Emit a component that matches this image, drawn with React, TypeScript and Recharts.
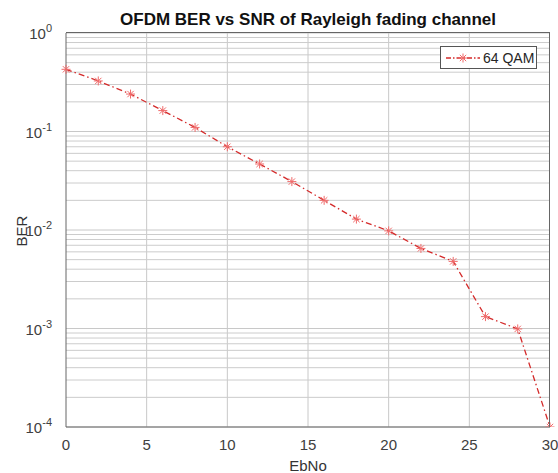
import { LineChart, Line, XAxis, YAxis, CartesianGrid } from 'recharts';

const ebno = [0, 2, 4, 6, 8, 10, 12, 14, 16, 18, 20, 22, 24, 26, 28, 30];
const ber = [0.428, 0.326, 0.24, 0.163, 0.11, 0.07, 0.0468, 0.031, 0.02, 0.0129, 0.0098, 0.0065, 0.0048, 0.00132, 0.00099, 0.0001];
const xTicks = [0, 5, 10, 15, 20, 25, 30];
const yTicks = [1e-4, 1e-3, 1e-2, 1e-1, 1];
const minorY = [1e-4, 1e-3, 1e-2, 1e-1].flatMap((d) => [2, 3, 4, 5, 6, 7, 8, 9].map((m) => m * d));

const data = ebno.map((x, i) => ({ ebno: x, ber: ber[i] }));
// minor grid rows drawn as flat two-point series across the x range
const minorRows = minorY.map((v) => [{ ebno: 0, g: v }, { ebno: 30, g: v }]);

const FONT = '"Liberation Sans", Arial, sans-serif';
const RED = '#d42a2a';

const Star = ({ cx, cy }: any) => {
  const r = 4.5;
  const d = r * 0.707;
  return (
    <g stroke="#f06a6a" strokeWidth={1}>
      <line x1={cx - r} y1={cy} x2={cx + r} y2={cy} />
      <line x1={cx} y1={cy - r} x2={cx} y2={cy + r} />
      <line x1={cx - d} y1={cy - d} x2={cx + d} y2={cy + d} />
      <line x1={cx - d} y1={cy + d} x2={cx + d} y2={cy - d} />
    </g>
  );
};

const YTick = ({ x, y, payload }: any) => {
  const exp = Math.round(Math.log10(payload.value));
  return (
    <text x={x - 6} y={y + 6} textAnchor="end" fill="#404040" fontFamily={FONT} fontSize={15}>
      <tspan>10</tspan>
      <tspan dy={-7} fontSize={11}>{exp}</tspan>
    </text>
  );
};

export default function App() {
  return (
    <div style={{ position: 'absolute', left: 0, top: 0, width: 558, height: 473, background: '#fff' }}>
      <div style={{
        position: 'absolute', left: 66, width: 484, top: 10, textAlign: 'center',
        fontFamily: FONT, fontWeight: 'bold', fontSize: 17, lineHeight: '20px', color: '#111', zIndex: 2
      }}>
        OFDM BER vs SNR of Rayleigh fading channel
      </div>
      <div style={{
        position: 'absolute', left: 2, top: 222, width: 40, height: 18, textAlign: 'center', zIndex: 2,
        transform: 'rotate(-90deg)', fontFamily: FONT, fontSize: 15, lineHeight: '18px', color: '#333'
      }}>
        BER
      </div>
      <LineChart width={558} height={473} data={data} margin={{ top: 33, right: 8, bottom: 0, left: 0 }}>
        <CartesianGrid horizontalValues={yTicks} verticalValues={[5, 10, 15, 20, 25]} stroke="#c8c8c8" />
        {minorRows.map((rows, i) => (
          <Line key={i} data={rows} dataKey="g" stroke="#cccccc" strokeWidth={1} dot={false} activeDot={false} isAnimationActive={false} />
        ))}
        <XAxis
          dataKey="ebno"
          type="number"
          domain={[0, 30]}
          ticks={xTicks}
          height={46}
          stroke="#666"
          tickLine={false}
          tick={{ fill: '#404040', fontFamily: FONT, fontSize: 15 }}
          tickMargin={6}
          label={{ value: 'EbNo', position: 'insideBottom', offset: 2, fill: '#333', fontFamily: FONT, fontSize: 15 }}
        />
        <YAxis
          scale="log"
          domain={[1e-4, 1]}
          ticks={yTicks}
          width={66}
          stroke="#666"
          tickLine={false}
          tick={<YTick />}
          allowDataOverflow
        />
        <Line
          dataKey="ber"
          stroke={RED}
          strokeWidth={1.3}
          strokeDasharray="6 3 1.5 3"
          dot={<Star />}
          activeDot={false}
          isAnimationActive={false}
        />
      </LineChart>
      <div style={{
        position: 'absolute', left: 66, top: 32, width: 484, height: 395, zIndex: 1,
        borderTop: '1px solid #666', borderRight: '1px solid #666', boxSizing: 'border-box', pointerEvents: 'none'
      }} />
      <div style={{
        position: 'absolute', left: 440, top: 46, width: 97, height: 23, border: '1px solid #555', background: '#fff',
        display: 'flex', alignItems: 'center', fontFamily: FONT, fontSize: 14, color: '#262626', boxSizing: 'border-box', zIndex: 2
      }}>
        <svg width={42} height={20}>
          <line x1={5} y1={10} x2={39} y2={10} stroke={RED} strokeWidth={1.3} strokeDasharray="5 2 1.5 2" />
          <Star cx={22} cy={10} />
        </svg>
        <span>64 QAM</span>
      </div>
    </div>
  );
}
